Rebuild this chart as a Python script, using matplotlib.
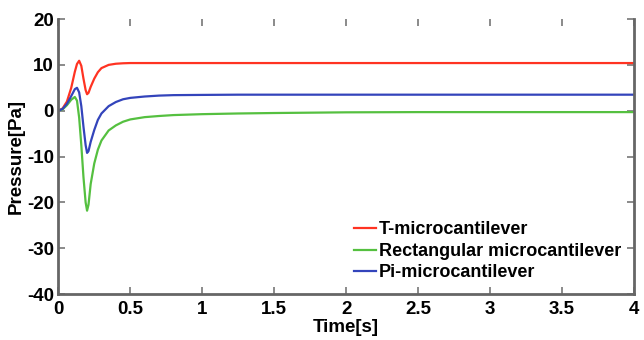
import numpy as np
import matplotlib
matplotlib.use('Agg')
import matplotlib.pyplot as plt

# values
time_s = [0, 0.03, 0.06, 0.09, 0.115, 0.13, 0.145, 0.16, 0.175, 0.19, 0.2, 0.21,
          0.225, 0.25, 0.275, 0.3, 0.35, 0.4, 0.45, 0.5, 0.6, 0.7, 0.8, 1.0,
          1.25, 1.5, 2.0, 2.5, 3.0, 3.5, 4.0]
p_t = [0, 0.5, 2.0, 5.0, 8.5, 10.2, 10.9, 9.8, 7.0, 4.5, 3.6, 3.9,
       5.2, 7.0, 8.4, 9.3, 10.0, 10.25, 10.35, 10.4, 10.4, 10.4, 10.4, 10.4,
       10.4, 10.4, 10.4, 10.4, 10.4, 10.4, 10.4]
p_rect = [0, 0.3, 1.2, 2.4, 3.0, 2.2, -1.5, -7.5, -14.5, -20.0, -21.8, -20.5,
          -16.0, -11.5, -8.5, -6.5, -4.3, -3.2, -2.4, -1.9, -1.4, -1.15, -0.95, -0.75,
          -0.6, -0.5, -0.35, -0.3, -0.3, -0.3, -0.3]
p_pi = [0, 0.4, 1.5, 3.2, 4.7, 5.0, 4.0, 1.0, -3.5, -7.5, -9.2, -8.8,
        -6.8, -4.2, -2.0, -0.6, 1.0, 1.9, 2.5, 2.8, 3.1, 3.3, 3.4, 3.45,
        3.5, 3.5, 3.5, 3.5, 3.5, 3.5, 3.5]
labels = ['T-microcantilever', 'Rectangular microcantilever', 'Pi-microcantilever']
colors = ['#ff3322', '#55c040', '#3344bb']

plt.rcParams['font.family'] = 'Liberation Sans'
plt.rcParams['font.weight'] = 'bold'
plt.rcParams['axes.unicode_minus'] = False

fig = plt.figure(figsize=(6.44, 3.4), dpi=100)
ax = fig.add_axes([0.0905, 0.135, 0.894, 0.809])

for y, lab, c in zip([p_t, p_rect, p_pi], labels, colors):
    ax.plot(time_s, y, color=c, lw=1.6, label=lab)

ax.set_xlim(0, 4)
ax.set_ylim(-40, 20)
ax.set_xticks(np.arange(0, 4.01, 0.5))
ax.set_xticklabels(['0', '0.5', '1', '1.5', '2', '2.5', '3', '3.5', '4'])
ax.set_yticks(np.arange(-40, 21, 10))
ax.tick_params(direction='in', length=5, width=1.2, color='#777777',
               labelsize=13.5, top=True, right=True)
ax.tick_params(axis='x', pad=5)
ax.tick_params(axis='y', pad=3)

for side in ['left', 'bottom', 'right']:
    ax.spines[side].set_color('#666666')
    ax.spines[side].set_linewidth(2)
ax.spines['top'].set_visible(False)

ax.set_xlabel('Time[s]', fontsize=13.5, fontweight='bold', labelpad=1)
ax.set_ylabel('Pressure[Pa]', fontsize=13.5, fontweight='bold', labelpad=2)

leg = ax.legend(loc='lower right', bbox_to_anchor=(1.0, 0.0), frameon=False,
                fontsize=13, handlelength=1.2, handletextpad=0.2,
                labelspacing=0.25, borderaxespad=0.3)

fig.savefig('out.png', dpi=100)
